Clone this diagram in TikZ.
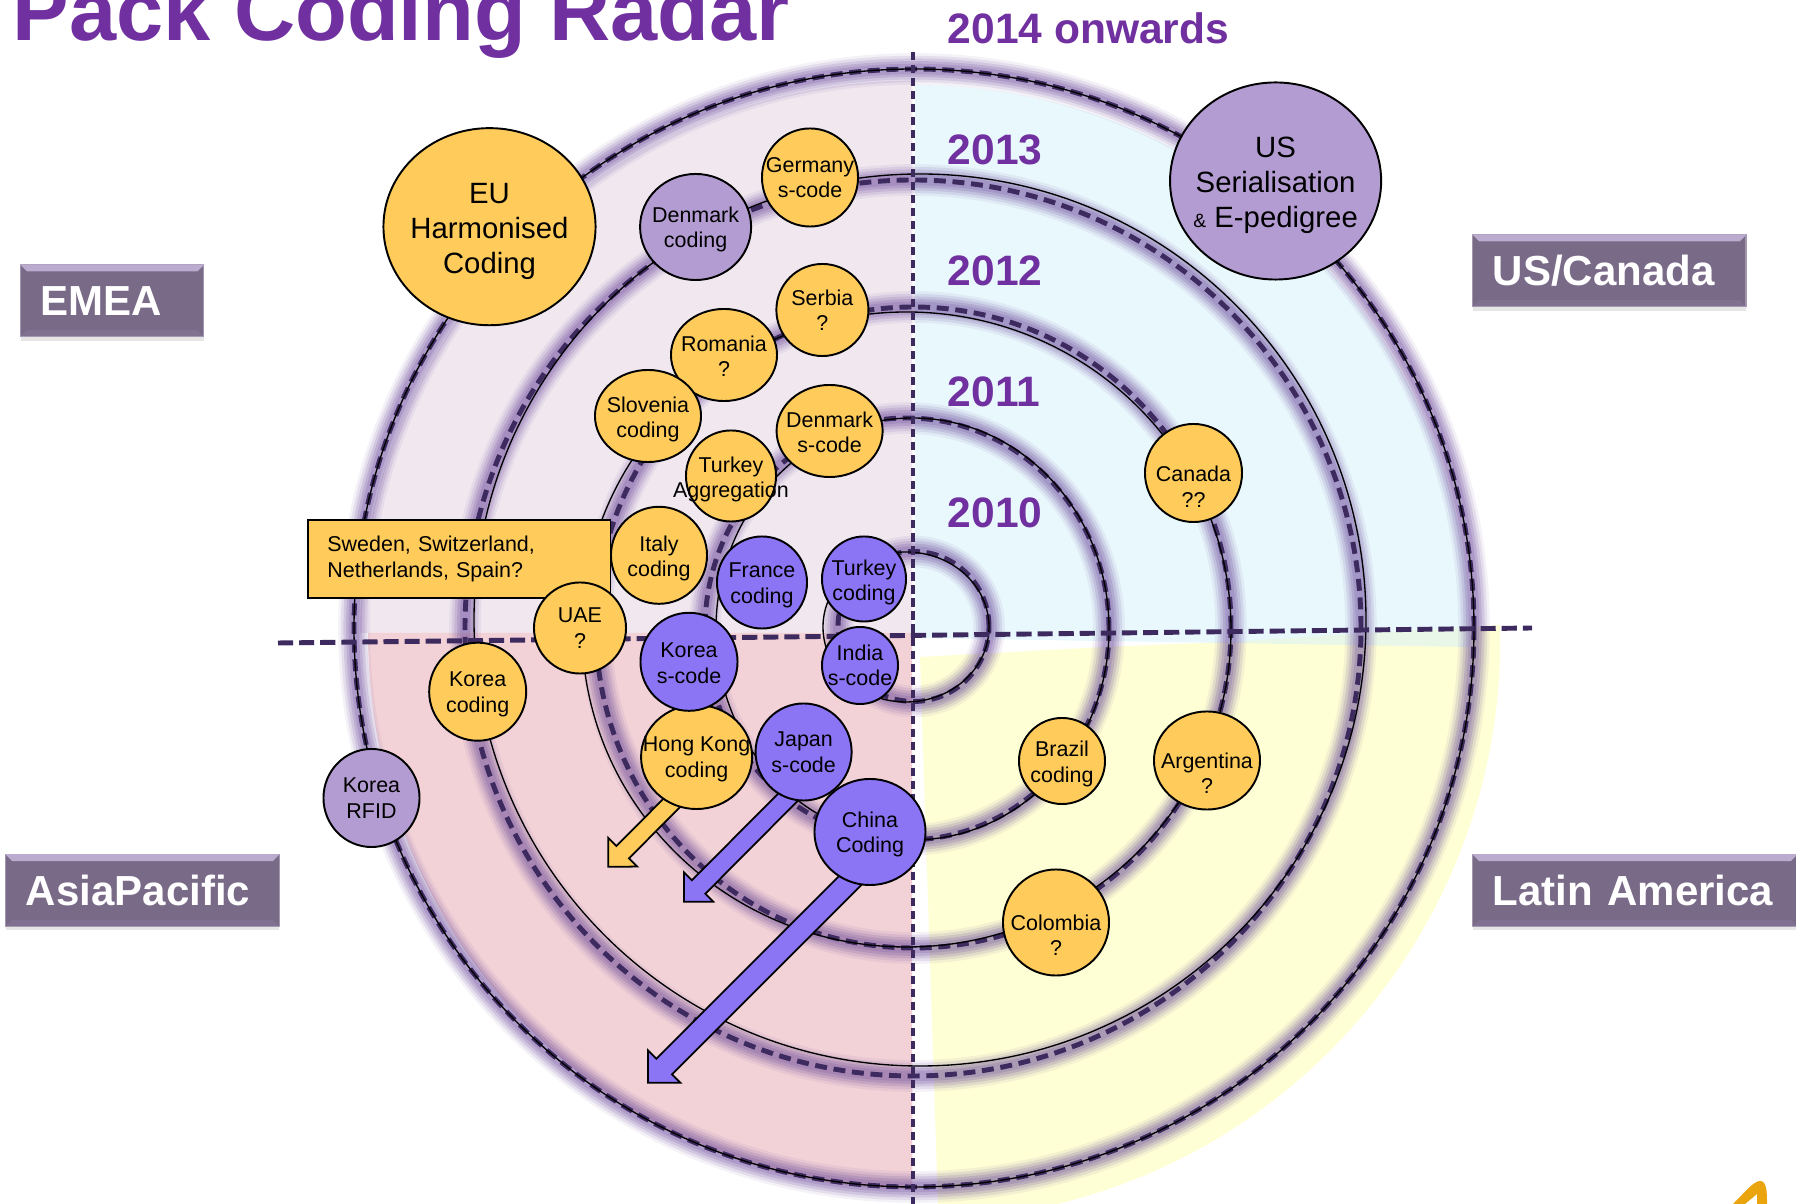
\documentclass[tikz,border=0pt]{standalone}
\usepackage{fontspec}
\setmainfont{Liberation Sans}
\usetikzlibrary{calc,shapes.geometric,shadows}
\definecolor{ringdash}{HTML}{3D2A5E}
\definecolor{ringglow}{HTML}{6F4E9E}
\definecolor{titlepurple}{HTML}{7030A0}
\definecolor{yellowbub}{HTML}{FFCC5C}
\definecolor{purplebub}{HTML}{B39CD2}
\definecolor{bluebub}{HTML}{8B75F5}
\definecolor{regionbg}{HTML}{796A88}
\definecolor{regionlight}{HTML}{BBABCE}
\definecolor{emeabg}{HTML}{F1E8EF}
\definecolor{usbg}{HTML}{D3F1FB}
\definecolor{asiabg}{HTML}{F2D2D6}
\definecolor{latinbg}{HTML}{FFFFD5}
\definecolor{logoorange}{HTML}{EAA50E}
\pgfdeclarelayer{rings}
\pgfdeclarelayer{arrows}
\pgfsetlayers{rings,arrows,main}
\tikzset{
  bubble/.style={ellipse,draw=black,line width=0.55pt,inner sep=0pt},
  bubyellow/.style={bubble,fill=yellowbub},
  bubpurple/.style={bubble,fill=purplebub},
  bubblue/.style={bubble,fill=bluebub},
  bubtext/.style={align=center,font=\fontsize{6.1}{7.25}\selectfont,inner sep=0pt},
  bubbig/.style={align=center,font=\fontsize{8.34}{10}\selectfont,inner sep=0pt},
  yearlabel/.style={anchor=base west,inner sep=0pt,text=titlepurple,font=\fontsize{12.1}{14}\selectfont\bfseries},
  regionbox/.style={fill=regionbg,draw=regionbg!70!white,line width=0.3pt,inner xsep=0.2cm,inner ysep=0pt,
    minimum height=0.715cm,text height=0.3cm,text depth=0cm,align=left,text=white,
    font=\fontsize{11.95}{14}\selectfont\bfseries,drop shadow={shadow xshift=0cm,shadow yshift=-0.04cm,opacity=0.2}},
  axisline/.style={color=ringdash,line width=1.3pt},
  ringdashed/.style={color=ringdash,line width=1.4pt,dash pattern=on 3.4pt off 1.9pt},
  ringsolid/.style={color=black,line width=0.38pt},
  arrowshape/.style={draw=black,line width=0.5pt,miter limit=10}
}
% tail, tip, half shaft, half head, fill colour
\newcommand{\blockarrow}[5]{
  \coordinate (arrowtail) at (#1);
  \coordinate (arrowneck) at ($(#2)!#4!(arrowtail)$);
  \draw [arrowshape,fill=#5] ($(arrowtail)!#3!90:(arrowneck)$) -- ($(arrowneck)!#3!-90:(arrowtail)$)
    -- ($(arrowneck)!#4!-90:(arrowtail)$) -- (#2) -- ($(arrowneck)!#4!90:(arrowtail)$)
    -- ($(arrowneck)!#3!90:(arrowtail)$) -- ($(arrowtail)!#3!-90:(arrowneck)$) -- cycle;
}
\begin{document}
\begin{tikzpicture}[x=0.01cm,y=-0.01cm]
    \useasboundingbox (0,0) rectangle (1796,1204);

    \begin{pgfonlayer}{rings}
    % Quadrants
    \fill [latinbg] (1500,625) arc [start angle=1.5,end angle=-76.5,radius=5.8cm] -- (938,1204) -- (920,657)
      -- (1104,647) -- (1226,642) -- cycle;
    \fill [emeabg] (360,633) arc [start angle=180,end angle=90,radius=5.52cm] -- (912,633) -- cycle;
    \fill [usbg,fill opacity=0.5] (915,85) arc [start angle=90,end angle=0,radius=5.55cm] -- (1470,647) -- (915,638) -- cycle;
    \fill [asiabg] (368,633) arc [start angle=180,end angle=270,x radius=5.44cm,y radius=5.56cm] -- (912,633) -- cycle;

    % Rings
    \foreach \cx/\cy/\rx/\ry in {914/628/560/559,913/628/448/448,913.5/627.5/317.5/320.5,907/629/202/211,913.5/626.5/75.5/75}{
      \foreach \w/\o in {9/0.08,7.5/0.12,6/0.16,4.5/0.2,3/0.2}{
        \draw [ringglow,line width=\w pt,opacity=\o] (\cx,\cy) ellipse [x radius=\rx*0.01cm,y radius=\ry*0.01cm];
      }
      \draw [ringdashed] (\cx,\cy) ellipse [x radius=\rx*0.01cm,y radius=\ry*0.01cm];
    }
    \foreach \cx/\cy/\rx/\ry in {914/628/560/559,920/620/446/446,906.5/629.5/324.5/317.5,912.5/629/196.5/211,906/627/83/75}{
      \draw [ringsolid] (\cx,\cy) ellipse [x radius=\rx*0.01cm,y radius=\ry*0.01cm];
    }

    % Axes
    \draw [axisline,dash pattern=on 2.3pt off 1.4pt] (913,52) -- (913,1204);
    \draw [axisline,line width=1.4pt,dash pattern=on 4.3pt off 1.7pt] (278,643) -- (1532,628);
    \end{pgfonlayer}

    % Title and years
    \node (title) at (12,41) [anchor=base west,inner sep=0pt,text=titlepurple,font=\fontsize{24.1}{28}\selectfont\bfseries] {Pack Coding Radar};
    \node (year2014) at (947,44) [yearlabel] {2014 onwards};
    \node (year2013) at (947,165) [yearlabel] {2013};
    \node (year2012) at (947,286) [yearlabel] {2012};
    \node (year2011) at (947,407) [yearlabel] {2011};
    \node (year2010) at (947,528) [yearlabel] {2010};

    % Regions
    \node (emea) at (112.2,300.8) [regionbox,text width=1.43cm] {EMEA};
    \node (uscanada) at (1609.4,270.8) [regionbox,text width=2.33cm] {US/Canada};
    \node (asiapacific) at (142.5,890.5) [regionbox,text width=2.33cm] {AsiaPacific};
    \node (latinamerica) at (1635,890.5) [regionbox,text width=2.84cm] {Latin America};
    \foreach \region in {emea,uscanada,asiapacific,latinamerica}{
      \fill [regionlight] (\region.north west) -- (\region.north east) -- ($(\region.north east)+(-7,7)$) -- ($(\region.north west)+(7,7)$) -- cycle;
      \fill [regionlight,opacity=0.12] (\region.south west) -- (\region.south east) -- ($(\region.south east)+(-7,-7)$) -- ($(\region.south west)+(7,-7)$) -- cycle;
    }

    % Big circles
    \node (eu) at (489.5,226.7) [bubyellow,minimum width=2.12cm,minimum height=1.97cm,label={[bubbig,yshift=-0.046cm]center:{EU\\Harmonised\\Coding}}] {};
    \node (us) at (1275.6,181) [bubpurple,minimum width=2.11cm,minimum height=1.97cm,label={[bubbig,yshift=-0.046cm]center:{US\\Serialisation\\{\fontsize{5.5}{10}\selectfont\&} E-pedigree}}] {};

    % 2013 and later
    \node (denmarkcoding) at (695.6,227) [bubpurple,minimum width=1.11cm,minimum height=1.06cm,label={[bubtext,yshift=-0.023cm]center:{Denmark\\coding}}] {};
    \node (germany) at (810,177.5) [bubyellow,minimum width=0.96cm,minimum height=0.98cm,label={[bubtext]center:{Germany\\s-code}}] {};
    \node (serbia) at (822.4,310) [bubyellow,minimum width=0.92cm,minimum height=0.92cm,label={[bubtext]center:{Serbia\\?}}] {};
    \node (romania) at (724,355) [bubyellow,minimum width=1.06cm,minimum height=0.92cm,label={[bubtext,yshift=-0.01cm]center:{Romania\\?}}] {};
    \node (slovenia) at (648,416) [bubyellow,minimum width=1.06cm,minimum height=0.92cm,label={[bubtext,yshift=-0.034cm]center:{Slovenia\\coding}}] {};
    \node (denmarkscode) at (829.6,431) [bubyellow,minimum width=1.06cm,minimum height=0.92cm,label={[bubtext,yshift=-0.015cm]center:{Denmark\\s-code}}] {};
    \node (turkeyagg) at (731,476) [bubyellow,minimum width=0.9cm,minimum height=0.91cm,label={[bubtext,yshift=-0.034cm]center:{Turkey\\Aggregation}}] {};

    % Box on the left
    \node (others) at (459.2,559) [draw=black,line width=0.55pt,fill=yellowbub,minimum width=3.024cm,minimum height=0.78cm,inner xsep=0.195cm,inner ysep=0pt,text width=2.634cm,align=left,font=\fontsize{6.1}{7.25}\selectfont] {Sweden, Switzerland,\\Netherlands, Spain?};

    \node (italy) at (659,555.3) [bubyellow,minimum width=0.96cm,minimum height=0.97cm,label={[bubtext,yshift=-0.034cm]center:{Italy\\coding}}] {};
    \node (france) at (762,582.5) [bubblue,minimum width=0.9cm,minimum height=0.92cm,label={[bubtext,yshift=-0.029cm]center:{France\\coding}}] {};
    \node (turkeycoding) at (864,579) [bubblue,minimum width=0.84cm,minimum height=0.85cm,label={[bubtext,yshift=-0.034cm]center:{Turkey\\coding}}] {};
    \node (india) at (860,665.5) [bubblue,minimum width=0.76cm,minimum height=0.77cm,label={[bubtext]center:{India\\s-code}}] {};
    \node (uae) at (580,628) [bubyellow,minimum width=0.92cm,minimum height=0.91cm,label={[bubtext]center:{UAE\\?}}] {};
    \node (koreacoding) at (477.7,691.7) [bubyellow,minimum width=0.97cm,minimum height=0.98cm,label={[bubtext,yshift=-0.029cm]center:{Korea\\coding}}] {};
    \node (korearfid) at (371.5,798) [bubpurple,minimum width=0.96cm,minimum height=0.98cm,label={[bubtext]center:{Korea\\RFID}}] {};
    \node (hongkong) at (696.6,757) [bubyellow,minimum width=1.11cm,minimum height=1.04cm,label={[bubtext,yshift=-0.023cm]center:{Hong Kong\\coding}}] {};
    \node (koreascode) at (689,661.8) [bubblue,minimum width=0.97cm,minimum height=0.98cm,label={[bubtext,yshift=-0.012cm]center:{Korea\\s-code}}] {};
    \node (japan) at (803.6,752) [bubblue,minimum width=0.96cm,minimum height=0.97cm,label={[bubtext]center:{Japan\\s-code}}] {};
    \node (china) at (870,832) [bubblue,minimum width=1.11cm,minimum height=1.06cm,label={[bubtext,yshift=-0.023cm]center:{China\\Coding}}] {};

    % Right half
    \node (canada) at (1193.5,473) [bubyellow,minimum width=0.97cm,minimum height=0.98cm,label={[bubtext,yshift=-0.137cm]center:{Canada\\??}}] {};
    \node (brazil) at (1062,761) [bubyellow,minimum width=0.86cm,minimum height=0.86cm,label={[bubtext,yshift=-0.029cm]center:{Brazil\\coding}}] {};
    \node (argentina) at (1207,760.5) [bubyellow,minimum width=1.06cm,minimum height=0.98cm,label={[bubtext,yshift=-0.126cm]center:{Argentina\\?}}] {};
    \node (colombia) at (1056,922.5) [bubyellow,minimum width=1.06cm,minimum height=1.06cm,label={[bubtext,yshift=-0.126cm]center:{Colombia\\?}}] {};

    % Arrows
    \coordinate (hongkongtip) at (608.3,866.7);
    \coordinate (japantip) at (684,901.7);
    \coordinate (chinatip) at (648,1082.7);
    \begin{pgfonlayer}{arrows}
    \blockarrow{$(hongkong.241)+(12,-12)$}{hongkongtip}{0.088cm}{0.204cm}{yellowbub}
    \blockarrow{$(japan.250)+(12,-12)$}{japantip}{0.095cm}{0.207cm}{bluebub}
    \blockarrow{$(china.247)+(12,-12)$}{chinatip}{0.11cm}{0.229cm}{bluebub}
    \end{pgfonlayer}

    % Corner mark
    \fill [logoorange] (1733,1204) .. controls (1745,1192) and (1752,1183) .. (1759,1181)
      .. controls (1767,1180) and (1767,1192) .. (1767,1204) -- (1757,1204) -- (1757,1194) -- (1745,1204) -- cycle;
\end{tikzpicture}
\end{document}
